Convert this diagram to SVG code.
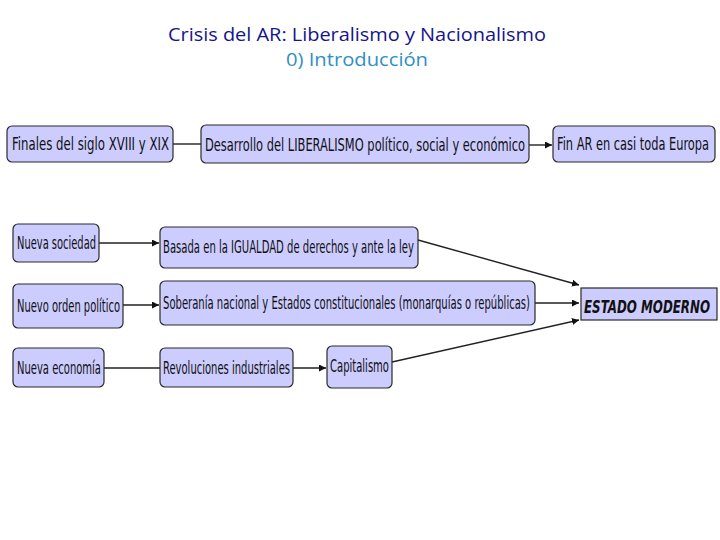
<svg xmlns="http://www.w3.org/2000/svg" width="720" height="540" viewBox="0 0 720 540">
<style>
.box{fill:#ccccff;stroke:#2a2a2a;stroke-width:1.2}
.t{font-family:"DejaVu Sans Condensed","DejaVu Sans",sans-serif;font-size:17px;fill:#111}
.c{stroke:#222;stroke-width:1.4;fill:none}
.title{font-family:"Open Sans","Liberation Sans",sans-serif;font-size:19px;text-anchor:middle}
</style>
<defs>
<marker id="ah" viewBox="0 0 10 10" refX="10" refY="5" markerWidth="7" markerHeight="7" markerUnits="userSpaceOnUse" orient="auto">
<path d="M0,0 L10,5 L0,10 z" fill="#111"/>
</marker>
</defs>
<rect width="720" height="540" fill="#fff"/>
<text class="title" x="357" y="41" fill="#14148c" textLength="378" lengthAdjust="spacingAndGlyphs">Crisis del AR: Liberalismo y Nacionalismo</text>
<text class="title" x="357" y="66" fill="#2f8fc4" textLength="142" lengthAdjust="spacingAndGlyphs">0) Introducción</text>

<g id="connectors">
<line class="c" x1="173" y1="144" x2="201" y2="144"/>
<line class="c" x1="529" y1="145" x2="552" y2="145" marker-end="url(#ah)"/>
<line class="c" x1="99" y1="243" x2="159" y2="243" marker-end="url(#ah)"/>
<line class="c" x1="123" y1="305" x2="159" y2="305" marker-end="url(#ah)"/>
<line class="c" x1="104" y1="368" x2="160" y2="368"/>
<line class="c" x1="293" y1="368" x2="326" y2="368" marker-end="url(#ah)"/>
<line class="c" x1="418" y1="240" x2="579" y2="285" marker-end="url(#ah)"/>
<line class="c" x1="535" y1="303" x2="579" y2="303" marker-end="url(#ah)"/>
<line class="c" x1="392" y1="362" x2="579" y2="320" marker-end="url(#ah)"/>
</g>

<g id="finales"><rect class="box" x="7" y="126" width="166" height="36" rx="5"/><text class="t" x="12" y="150" textLength="157" lengthAdjust="spacingAndGlyphs">Finales del siglo XVIII y XIX</text></g>
<g id="desarrollo"><rect class="box" x="201" y="125" width="328" height="38" rx="5"/><text class="t" x="205" y="151" textLength="320" lengthAdjust="spacingAndGlyphs">Desarrollo del LIBERALISMO político, social y económico</text></g>
<g id="finar"><rect class="box" x="553" y="126" width="162" height="36" rx="5"/><text class="t" x="557" y="150" textLength="152" lengthAdjust="spacingAndGlyphs">Fin AR en casi toda Europa</text></g>

<g id="sociedad"><rect class="box" x="13" y="224" width="86" height="38" rx="5"/><text class="t" x="17" y="249" textLength="79" lengthAdjust="spacingAndGlyphs">Nueva sociedad</text></g>
<g id="igualdad"><rect class="box" x="160" y="227" width="258" height="41" rx="5"/><text class="t" x="163" y="253" textLength="251" lengthAdjust="spacingAndGlyphs">Basada en la IGUALDAD de derechos y ante la ley</text></g>

<g id="orden"><rect class="box" x="13" y="284" width="110" height="44" rx="5"/><text class="t" x="17" y="312" textLength="103" lengthAdjust="spacingAndGlyphs">Nuevo orden político</text></g>
<g id="soberania"><rect class="box" x="160" y="281" width="375" height="44" rx="5"/><text class="t" x="163" y="309" textLength="367" lengthAdjust="spacingAndGlyphs">Soberanía nacional y Estados constitucionales (monarquías o repúblicas)</text></g>

<g id="economia"><rect class="box" x="13" y="348" width="91" height="39" rx="5"/><text class="t" x="17" y="374" textLength="84" lengthAdjust="spacingAndGlyphs">Nueva economía</text></g>
<g id="revoluciones"><rect class="box" x="160" y="348" width="133" height="39" rx="5"/><text class="t" x="163" y="374" textLength="127" lengthAdjust="spacingAndGlyphs">Revoluciones industriales</text></g>
<g id="capitalismo"><rect class="box" x="327" y="346" width="65" height="42" rx="5"/><text class="t" x="330" y="372" textLength="59" lengthAdjust="spacingAndGlyphs">Capitalismo</text></g>

<g id="estado"><rect class="box" x="581" y="288" width="136" height="32"/><text class="t" x="584" y="313" font-size="21" font-weight="bold" font-style="italic" textLength="126" lengthAdjust="spacingAndGlyphs">ESTADO MODERNO</text></g>
</svg>
